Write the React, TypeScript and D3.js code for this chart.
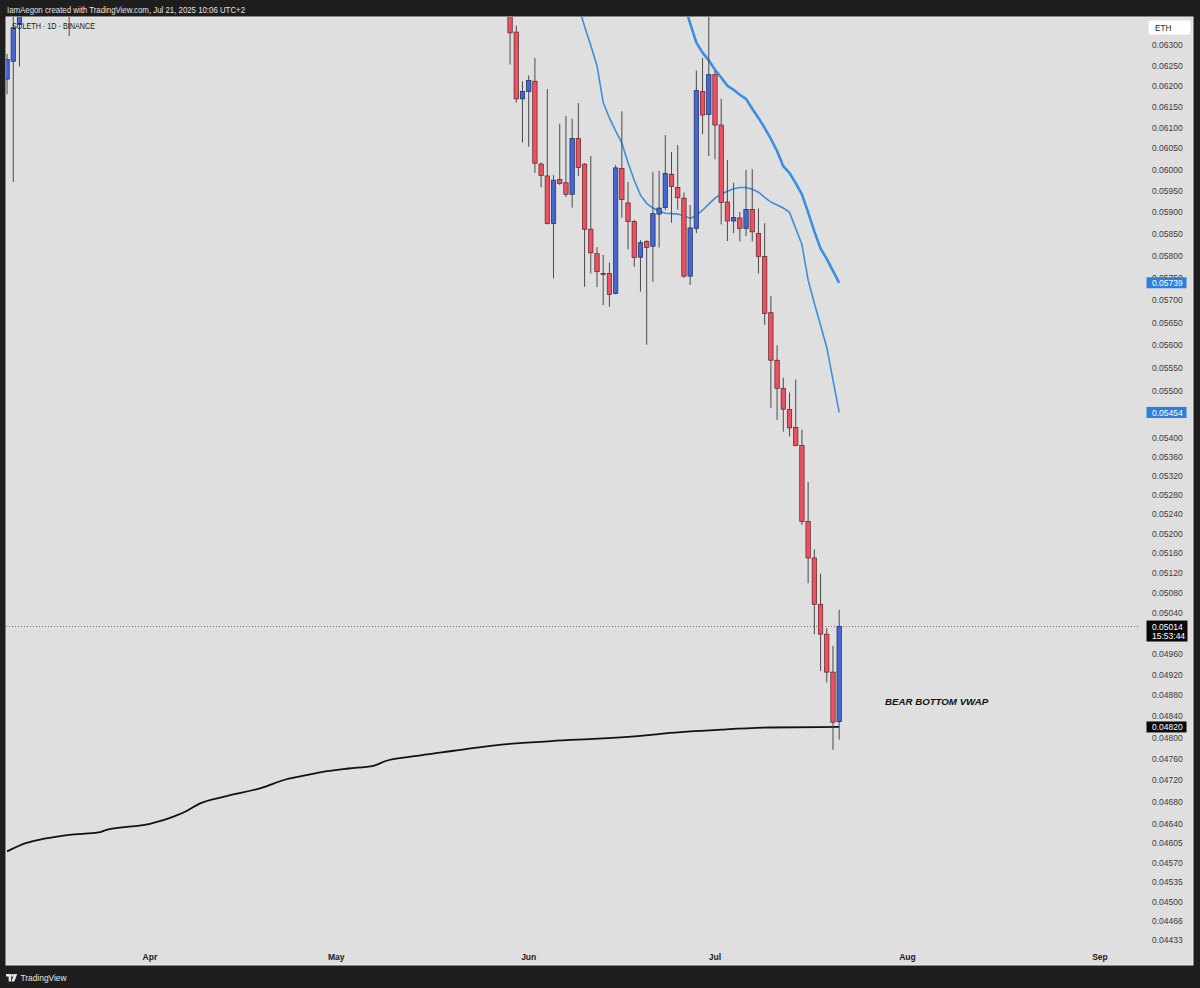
import React from 'react';
import * as d3 from 'd3';

// ---------- DATA ----------
const candleDates = [
  '2025-03-09', '2025-03-10', '2025-03-11', '2025-03-19',
  '2025-05-29', '2025-05-30', '2025-05-31',
  '2025-06-01', '2025-06-02', '2025-06-03', '2025-06-04', '2025-06-05', '2025-06-06', '2025-06-07', '2025-06-08', '2025-06-09', '2025-06-10',
  '2025-06-11', '2025-06-12', '2025-06-13', '2025-06-14', '2025-06-15', '2025-06-16', '2025-06-17', '2025-06-18', '2025-06-19', '2025-06-20',
  '2025-06-21', '2025-06-22', '2025-06-23', '2025-06-24', '2025-06-25', '2025-06-26', '2025-06-27', '2025-06-28', '2025-06-29', '2025-06-30',
  '2025-07-01', '2025-07-02', '2025-07-03', '2025-07-04', '2025-07-05', '2025-07-06', '2025-07-07', '2025-07-08', '2025-07-09', '2025-07-10',
  '2025-07-11', '2025-07-12', '2025-07-13', '2025-07-14', '2025-07-15', '2025-07-16', '2025-07-17', '2025-07-18', '2025-07-19', '2025-07-20', '2025-07-21',
];
const candleOpen = [
  0.06217, 0.06261, 0.06352, 0.0662,
  0.0642, 0.06333, 0.06169,
  0.06187, 0.06212, 0.06013, 0.05985, 0.05874, 0.05977, 0.05969, 0.05942, 0.06074, 0.06013,
  0.05861, 0.05805, 0.0576, 0.0576, 0.05715, 0.06003, 0.05922, 0.05879, 0.05797, 0.05833,
  0.05822, 0.05896, 0.05911, 0.05989, 0.05958, 0.05933, 0.05754, 0.05863, 0.06187, 0.06131,
  0.06228, 0.06106, 0.05924, 0.0588, 0.05887, 0.05863, 0.05907, 0.05851, 0.05799, 0.05672,
  0.05567, 0.05506, 0.0546, 0.05422, 0.05384, 0.05225, 0.05151, 0.05058, 0.04999, 0.04925, 0.0483,
];
const candleHigh = [
  0.06279, 0.0652, 0.0662, 0.0668,
  0.0648, 0.06349, 0.06212,
  0.06226, 0.06269, 0.06017, 0.06193, 0.05987, 0.06109, 0.06128, 0.06121, 0.06159, 0.06015,
  0.06032, 0.0582, 0.05802, 0.05785, 0.06011, 0.06139, 0.05971, 0.05883, 0.05836, 0.05836,
  0.05995, 0.05997, 0.06082, 0.06042, 0.06058, 0.05946, 0.05917, 0.06238, 0.06269, 0.0645,
  0.06237, 0.06169, 0.06023, 0.05969, 0.05901, 0.05999, 0.06001, 0.05909, 0.05875, 0.05709,
  0.056, 0.05529, 0.05497, 0.05525, 0.05417, 0.05307, 0.05168, 0.05119, 0.05011, 0.04976, 0.05047,
];
const candleLow = [
  0.0618, 0.05971, 0.06248, 0.06323,
  0.06253, 0.0616, 0.06064,
  0.06054, 0.05992, 0.05958, 0.05872, 0.05749, 0.05964, 0.05936, 0.05911, 0.05985, 0.0573,
  0.0576, 0.05729, 0.05689, 0.05685, 0.05713, 0.05888, 0.05815, 0.05775, 0.05719, 0.05601,
  0.05741, 0.05819, 0.05905, 0.05876, 0.05906, 0.0575, 0.05734, 0.05852, 0.06084, 0.06032,
  0.06024, 0.05872, 0.05834, 0.05852, 0.05833, 0.05845, 0.05833, 0.0576, 0.05645, 0.05464,
  0.05438, 0.05413, 0.05403, 0.05382, 0.05218, 0.051, 0.04999, 0.04927, 0.04905, 0.04777, 0.04796,
];
const candleClose = [
  0.06265, 0.06344, 0.0652, 0.065,
  0.06331, 0.06169, 0.06187,
  0.06214, 0.06015, 0.05986, 0.05874, 0.05975, 0.05967, 0.05942, 0.06074, 0.06005, 0.05861,
  0.05807, 0.05764, 0.05759, 0.05713, 0.06004, 0.0593, 0.05879, 0.05796, 0.0583, 0.05819,
  0.05897, 0.0591, 0.05991, 0.0596, 0.05934, 0.05754, 0.05864, 0.06189, 0.0613, 0.06228,
  0.06106, 0.05923, 0.0588, 0.05888, 0.05863, 0.05907, 0.05855, 0.05799, 0.0567, 0.05567,
  0.05506, 0.05461, 0.05421, 0.05384, 0.05225, 0.05151, 0.05058, 0.04999, 0.04925, 0.04829, 0.05014,
];

// faster moving average (thin blue), daily from Jun 8
const maFastStart = '2025-06-08';
const maFastValues = [
  0.06451, 0.064, 0.06347, 0.063, 0.0625, 0.0616, 0.06123, 0.06092, 0.06063, 0.06016,
  0.05975, 0.0594, 0.05921, 0.0591, 0.05903, 0.05898, 0.05897, 0.05896, 0.05892, 0.05886,
  0.05893, 0.05905, 0.05919, 0.05933, 0.05942, 0.05949, 0.05955, 0.05958, 0.05958, 0.05954,
  0.05947, 0.05935, 0.05924, 0.05917, 0.0591, 0.059, 0.05863, 0.05826, 0.05745, 0.05693,
  0.05644, 0.05595, 0.05524, 0.05454,
];
// slower moving average (thick blue), daily from Jun 25
const maSlowStart = '2025-06-25';
const maSlowValues = [
  0.06456, 0.06405, 0.06355, 0.06307, 0.06282, 0.06263, 0.0624, 0.06221, 0.06201, 0.06191,
  0.06179, 0.06169, 0.06145, 0.06123, 0.06099, 0.06073, 0.06044, 0.06008, 0.05992, 0.05968,
  0.05942, 0.059, 0.05856, 0.05817, 0.05793, 0.05766, 0.05739,
];

// anchored VWAP (black)
const vwapDates = [
  '2025-03-09', '2025-03-12', '2025-03-15', '2025-03-19', '2025-03-24', '2025-03-25', '2025-04-01', '2025-04-05',
  '2025-04-07', '2025-04-09', '2025-04-13', '2025-04-19', '2025-04-23', '2025-04-26', '2025-04-29', '2025-05-03',
  '2025-05-07', '2025-05-09', '2025-05-13', '2025-05-18', '2025-05-23', '2025-05-30', '2025-06-07', '2025-06-19',
  '2025-06-23', '2025-07-02', '2025-07-10', '2025-07-21',
];
const vwapValues = [
  0.0459, 0.04605, 0.04613, 0.0462, 0.04625, 0.04629, 0.0464, 0.04654,
  0.04664, 0.04677, 0.0469, 0.04706, 0.04722, 0.04729, 0.04736, 0.04742,
  0.04747, 0.04756, 0.04764, 0.04772, 0.0478, 0.04789, 0.04795, 0.04803,
  0.04808, 0.04815, 0.04819, 0.0482,
];

const priceTicks = [
  0.063, 0.0625, 0.062, 0.0615, 0.061, 0.0605, 0.06, 0.0595, 0.059, 0.0585, 0.058, 0.0575, 0.057, 0.0565,
  0.056, 0.0555, 0.055, 0.054, 0.0536, 0.0532, 0.0528, 0.0524, 0.052, 0.0516, 0.0512, 0.0508, 0.0504,
  0.0496, 0.0492, 0.0488, 0.0484, 0.048, 0.0476, 0.0472, 0.0468, 0.0464, 0.04605, 0.0457, 0.04535,
  0.045, 0.04466, 0.04433,
];
const monthLabels = ['Apr', 'May', 'Jun', 'Jul', 'Aug', 'Sep'];
const monthDates = ['2025-04-01', '2025-05-01', '2025-06-01', '2025-07-01', '2025-08-01', '2025-09-01'];

const headerText = 'IamAegon created with TradingView.com, Jul 21, 2025 10:06 UTC+2';
const legendText = 'SOLETH · 1D · BINANCE';
const currencyText = 'ETH';
const countdownText = '15:53:44';
const annotationText = 'BEAR BOTTOM VWAP';

// ---------- CHART ----------
const parse = d3.utcParse('%Y-%m-%d');
const FONT = "'Liberation Sans', Arial, Helvetica, sans-serif";

export default function App() {
  const x = d3.scaleUtc().domain([parse('2025-03-09')!, parse('2025-09-01')!]).range([7.06, 1100]);
  const y = d3.scaleLog().domain([0.04433, 0.063]).range([940, 45.4]);
  const fmt = d3.format('.5f');

  const candles = candleDates.map((d, i) => ({
    date: parse(d)!, o: candleOpen[i], h: candleHigh[i], l: candleLow[i], c: candleClose[i],
  }));

  const dayPoints = (start: string, vals: number[]) => {
    const s = parse(start)!;
    return vals.map((v, i) => [d3.utcDay.offset(s, i), v] as [Date, number]);
  };
  const fastPts = dayPoints(maFastStart, maFastValues);
  const slowPts = dayPoints(maSlowStart, maSlowValues);
  const vwapPts = vwapDates.map((d, i) => [parse(d)!, vwapValues[i]] as [Date, number]);

  const line = d3.line<[Date, number]>().x((d) => x(d[0])).y((d) => y(d[1]));
  const smooth = d3.line<[Date, number]>().x((d) => x(d[0])).y((d) => y(d[1])).curve(d3.curveMonotoneX);

  const lastClose = candleClose[candleClose.length - 1];
  const fastLast = maFastValues[maFastValues.length - 1];
  const slowLast = maSlowValues[maSlowValues.length - 1];
  const vwapLast = vwapValues[vwapValues.length - 1];

  const bodyW = 4.4;
  const labelX = 1152;
  const boxX = 1146.5;
  const boxW = 40;

  return (
    <div style={{ position: 'absolute', left: 0, top: 0 }}>
      <svg width={1200} height={988} style={{ display: 'block' }} fontFamily={FONT}>
        <defs>
          <clipPath id="pane">
            <rect x={6} y={17} width={1132} height={930} />
          </clipPath>
        </defs>
        <rect x={0} y={0} width={1200} height={988} fill="#1e1e1e" />
        <rect x={6} y={17} width={1187} height={948} fill="#dfdfdf" stroke="#ececec" strokeWidth={1} />

        <g clipPath="url(#pane)">
          {/* VWAP */}
          <path d={smooth(vwapPts) || ''} fill="none" stroke="#111" strokeWidth={1.8} />
          {/* Moving averages */}
          <path d={line(fastPts) || ''} fill="none" stroke="#3a8fe0" strokeWidth={1.6} />
          <path d={line(slowPts) || ''} fill="none" stroke="#3a8fe0" strokeWidth={2.6} />
          {/* last price dotted line */}
          <line x1={6} x2={1146} y1={y(lastClose)} y2={y(lastClose)} stroke="#6e6e6e" strokeWidth={1} strokeDasharray="1 2" />
          {/* candles */}
          {candles.map((k, i) => {
            const cx = x(k.date);
            const up = k.c >= k.o;
            const top = y(Math.max(k.o, k.c));
            const bot = y(Math.min(k.o, k.c));
            return (
              <g key={i}>
                <line x1={cx} x2={cx} y1={y(k.h)} y2={y(k.l)} stroke="#4a4a4a" strokeWidth={1} />
                <rect
                  x={cx - bodyW / 2}
                  y={top}
                  width={bodyW}
                  height={Math.max(1, bot - top)}
                  fill={up ? '#4766d1' : '#ec5161'}
                  stroke={up ? '#1d2a5c' : '#5e2229'}
                  strokeWidth={0.7}
                />
              </g>
            );
          })}
        </g>

        {/* annotation */}
        <text x={885} y={705} fontSize={9.7} fontWeight="bold" fontStyle="italic" fill="#111">
          {annotationText}
        </text>

        {/* legend */}
        <text x={12} y={29} fontSize={8.6} fill="#131722" textLength={83} lengthAdjust="spacingAndGlyphs">
          {legendText}
        </text>

        {/* price axis ticks */}
        {priceTicks.map((v) => (
          <text key={v} x={labelX} y={y(v) + 3} fontSize={8.5} fill="#3b3b3b">
            {fmt(v)}
          </text>
        ))}

        {/* currency box */}
        <rect x={1148.5} y={20.5} width={42} height={14} rx={2} fill="#ffffff" />
        <text x={1155} y={30.5} fontSize={8.2} fill="#222">{currencyText}</text>

        {/* slow MA label */}
        <rect x={boxX} y={y(slowLast) - 5.5} width={boxW} height={11} fill="#2c7fdb" />
        <text x={labelX} y={y(slowLast) + 3.2} fontSize={8.5} fill="#fff">{fmt(slowLast)}</text>
        {/* fast MA label */}
        <rect x={boxX} y={y(fastLast) - 5.5} width={boxW} height={11} fill="#2c7fdb" />
        <text x={labelX} y={y(fastLast) + 3.2} fontSize={8.5} fill="#fff">{fmt(fastLast)}</text>
        {/* last price label */}
        <rect x={boxX} y={y(lastClose) - 6} width={boxW + 1} height={21} fill="#0a0a0a" />
        <text x={labelX} y={y(lastClose) + 3} fontSize={8.5} fill="#fff">{fmt(lastClose)}</text>
        <text x={labelX} y={y(lastClose) + 12} fontSize={8.5} fill="#fff">{countdownText}</text>
        {/* VWAP label */}
        <rect x={boxX} y={y(vwapLast) - 5.5} width={boxW} height={11} fill="#0a0a0a" />
        <text x={labelX} y={y(vwapLast) + 3.2} fontSize={8.5} fill="#fff">{fmt(vwapLast)}</text>

        {/* time axis */}
        {monthLabels.map((m, i) => (
          <text key={m} x={x(parse(monthDates[i])!)} y={960} fontSize={8.5} fontWeight="bold" fill="#1a1a1a" textAnchor="middle">
            {m}
          </text>
        ))}

        {/* header */}
        <text x={7} y={13} fontSize={8.6} fill="#e3e3e3" textLength={238} lengthAdjust="spacingAndGlyphs">
          {headerText}
        </text>

        {/* footer logo */}
        <g fill="#e6e6e6">
          <path d="M6,974 h5.2 v7.4 h-2.6 v-4.8 h-2.6 z" />
          <circle cx={12.6} cy={975.4} r={1.3} />
          <path d="M14.2,974 h3 l-2.8,7.4 h-3 z" />
        </g>
        <text x={20.5} y={981} fontSize={8.8} fill="#e6e6e6" textLength={46} lengthAdjust="spacingAndGlyphs">
          TradingView
        </text>
      </svg>
    </div>
  );
}
